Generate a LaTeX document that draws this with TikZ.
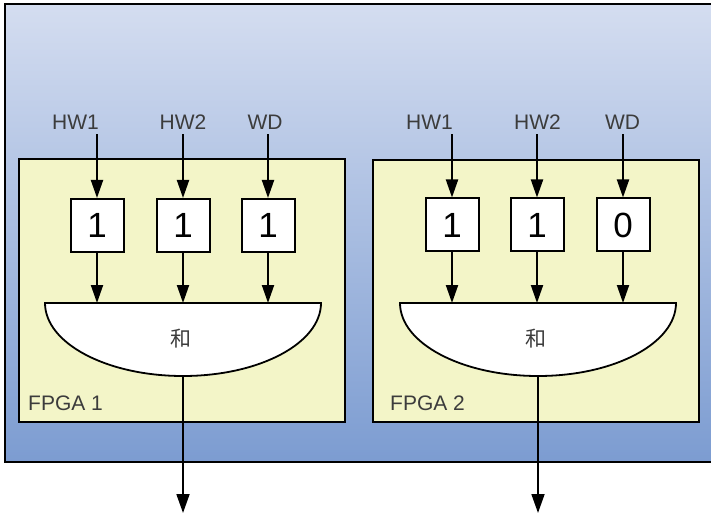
\documentclass[tikz,border=0pt]{standalone}
\usepackage{fontspec}
\setmainfont{Liberation Sans}
\newfontfamily\cjk{Noto Sans CJK SC}
\usetikzlibrary{arrows.meta}
\definecolor{bgtop}{RGB}{212,221,240}
\definecolor{bgbot}{RGB}{124,156,209}
\definecolor{fpgafill}{RGB}{243,245,200}
\definecolor{txtgray}{RGB}{60,60,60}
\begin{document}
\begin{tikzpicture}[x=1pt,y=-1pt,
  arr/.style={line width=2pt,-{Triangle[length=18pt,width=12pt]}},
  outarr/.style={line width=1.8pt,-{Triangle[length=19pt,width=13pt]}},
  sig/.style={inner sep=0pt,text=txtgray,font=\fontsize{21}{21}\selectfont},
  valbox/.style={draw,line width=2pt,fill=white,minimum width=53pt,minimum height=53pt,inner sep=0pt,font=\fontsize{35}{35}\selectfont},
  fpga/.style={draw,line width=2pt,fill=fpgafill},
  fpgalab/.style={inner sep=0pt,text=txtgray,anchor=base west,font=\fontsize{21}{21}\selectfont},
  sumlab/.style={inner sep=0pt,text=txtgray,font=\cjk\fontsize{21}{21}\selectfont},
  sumshape/.style={draw,line width=1.8pt,fill=white}]
\useasboundingbox (0,0) rectangle (711,518);
\clip (0,0) rectangle (711,518);
\fill[white] (0,0) rectangle (711,518);
% background board
\shade[top color=bgtop,bottom color=bgbot] (5,4) rectangle (720,462);
\draw[line width=2pt] (5,4) rectangle (720,462);
% FPGA boxes
\draw[fpga] (18.5,159.5) rectangle (345,422);
\draw[fpga] (372.5,160) rectangle (699,422);
\node[fpgalab] (f1lab) at (28,410) {FPGA 1};
\node[fpgalab] (f2lab) at (390,410) {FPGA 2};
% ---- FPGA 1 ----
\node[sig,anchor=base east] (h11) at (99,130) {HW1};
\node[sig,anchor=base] (h12) at (183,130) {HW2};
\node[sig,anchor=base] (h13) at (265,130) {WD};
\node[valbox] (b11) at (97,225.5) {1};
\node[valbox] (b12) at (183,225.5) {1};
\node[valbox] (b13) at (268,225.5) {1};
\draw[sumshape] (45,303) arc[start angle=180,end angle=0,x radius=138,y radius=73] -- cycle;
\coordinate (s1top) at (183,303);
\coordinate (s1bot) at (183,376);
\coordinate (o1) at (183,513);
\node[sumlab] (sum1) at (181,339) {和};
\draw[arr] (b11.north |- h11.south) ++(0,4) -- (b11.north);
\draw[arr] (b12.north |- h12.south) ++(0,4) -- (b12.north);
\draw[arr] (b13.north |- h13.south) ++(0,4) -- (b13.north);
\draw[arr] (b11.south) -- (b11.south |- s1top);
\draw[arr] (b12.south) -- (b12.south |- s1top);
\draw[arr] (b13.south) -- (b13.south |- s1top);
\draw[outarr] (s1bot) -- (o1);
% ---- FPGA 2 ----
\node[sig,anchor=base east] (h21) at (453,130) {HW1};
\node[sig,anchor=base] (h22) at (537.5,130) {HW2};
\node[sig,anchor=base] (h23) at (622.5,130) {WD};
\node[valbox] (b21) at (452,225) {1};
\node[valbox] (b22) at (537,225) {1};
\node[valbox] (b23) at (623,225) {0};
\draw[sumshape] (400,303) arc[start angle=180,end angle=0,x radius=138,y radius=73] -- cycle;
\coordinate (s2top) at (538,303);
\coordinate (s2bot) at (538,376);
\coordinate (o2) at (538,513);
\node[sumlab] (sum2) at (536,339) {和};
\draw[arr] (b21.north |- h21.south) ++(0,4) -- (b21.north);
\draw[arr] (b22.north |- h22.south) ++(0,4) -- (b22.north);
\draw[arr] (b23.north |- h23.south) ++(0,4) -- (b23.north);
\draw[arr] (b21.south) -- (b21.south |- s2top);
\draw[arr] (b22.south) -- (b22.south |- s2top);
\draw[arr] (b23.south) -- (b23.south |- s2top);
\draw[outarr] (s2bot) -- (o2);
\end{tikzpicture}
\end{document}
